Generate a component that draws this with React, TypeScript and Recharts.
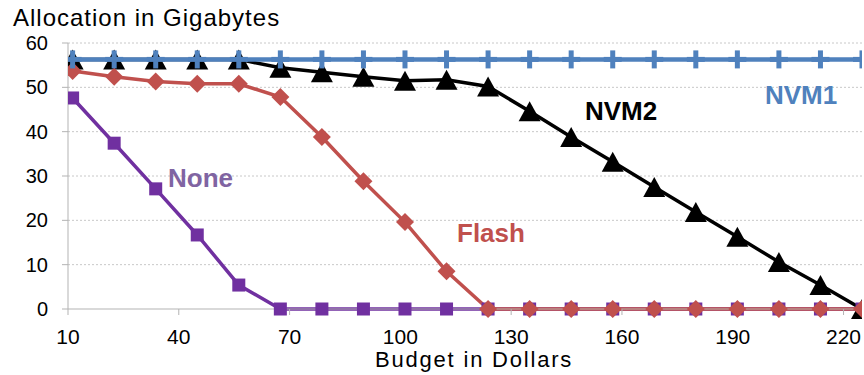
import React from 'react';
import { LineChart, Line, XAxis, YAxis, CartesianGrid } from 'recharts';

const FONT = '"Liberation Sans", Arial, sans-serif';

// budget steps (dollars) shared by every series
const budget = [
  11.25, 22.5, 33.75, 45, 56.25, 67.5, 78.75, 90, 101.25, 112.5,
  123.75, 135, 146.25, 157.5, 168.75, 180, 191.25, 202.5, 213.75, 225,
];

// allocation in GB for each memory configuration
const noneGb = [47.6, 37.4, 27.1, 16.7, 5.4, 0, 0, 0, 0, 0, 0, 0, 0, 0, 0, 0, 0, 0, 0, 0];
const flashGb = [53.7, 52.4, 51.3, 50.8, 50.8, 47.8, 38.8, 28.8, 19.6, 8.5, 0, 0, 0, 0, 0, 0, 0, 0, 0, 0];
const nvm2Gb = [
  56.3, 56.3, 56.3, 56.3, 56.3, 54.4, 53.4, 52.4, 51.5, 51.7,
  50.2, 44.6, 38.8, 33.2, 27.5, 21.9, 16.3, 10.6, 5.4, 0,
];
const nvm1Gb = [
  56.3, 56.3, 56.3, 56.3, 56.3, 56.3, 56.3, 56.3, 56.3, 56.3,
  56.3, 56.3, 56.3, 56.3, 56.3, 56.3, 56.3, 56.3, 56.3, 56.3,
];

const xTicks = [10, 40, 70, 100, 130, 160, 190, 220];
const yTicks = [0, 10, 20, 30, 40, 50, 60];

const COLORS = {
  none: '#7030a0',
  noneLabel: '#8064a2',
  flash: '#c0504d',
  nvm2: '#000000',
  nvm1: '#4f81bd',
};

const data = budget.map((b, i) => ({
  budget: b,
  none: noneGb[i],
  flash: flashGb[i],
  nvm2: nvm2Gb[i],
  nvm1: nvm1Gb[i],
}));

const SquareDot = (props: any) => {
  const { cx, cy, index } = props;
  return <rect key={`sq-${index}`} x={cx - 6.5} y={cy - 6.5} width={13} height={13} fill={COLORS.none} />;
};

const DiamondDot = (props: any) => {
  const { cx, cy, index } = props;
  const r = 9;
  return (
    <polygon
      key={`dm-${index}`}
      points={`${cx},${cy - r} ${cx + r},${cy} ${cx},${cy + r} ${cx - r},${cy}`}
      fill={COLORS.flash}
    />
  );
};

const TriangleDot = (props: any) => {
  const { cx, cy, index } = props;
  return (
    <polygon
      key={`tr-${index}`}
      points={`${cx},${cy - 10} ${cx + 11},${cy + 10} ${cx - 11},${cy + 10}`}
      fill={COLORS.nvm2}
    />
  );
};

const PlusDot = (props: any) => {
  const { cx, cy, index } = props;
  return (
    <g key={`pl-${index}`}>
      <rect x={cx - 2.5} y={cy - 9} width={5} height={18} fill={COLORS.nvm1} />
      <rect x={cx - 9} y={cy - 2.5} width={18} height={5} fill={COLORS.nvm1} />
    </g>
  );
};

const axisStroke = '#b3b3b3';
const xTickStyle = { fontSize: 21, fill: '#000', fontFamily: FONT };
const yTickStyle = { fontSize: 20, fill: '#000', fontFamily: FONT };
const seriesLabel = { fontSize: 26, fontWeight: 700, fontFamily: FONT };

export default function App() {
  return (
    <div style={{ position: 'absolute', left: 0, top: 0, width: 864, height: 375, background: '#fff' }}>
      <LineChart
        width={864}
        height={375}
        data={data}
        margin={{ top: 43, right: 2, bottom: 0, left: 0 }}
      >
        <CartesianGrid
          vertical={false}
          stroke="#c8c8c8"
          strokeDasharray="2 2"
          horizontalValues={[10, 20, 30, 40, 50, 60]}
        />
        <XAxis
          dataKey="budget"
          type="number"
          domain={[10, 225]}
          ticks={xTicks}
          height={66}
          tick={xTickStyle}
          tickSize={6}
          tickMargin={14}
          stroke={axisStroke}
          tickLine={{ stroke: axisStroke }}
          allowDataOverflow
        />
        <YAxis
          type="number"
          domain={[0, 60]}
          ticks={yTicks}
          width={68}
          tick={yTickStyle}
          tickSize={6}
          tickMargin={14}
          stroke={axisStroke}
          tickLine={{ stroke: axisStroke }}
        />
        <Line
          dataKey="none"
          stroke={COLORS.none}
          strokeWidth={3.5}
          dot={SquareDot}
          activeDot={false}
          isAnimationActive={false}
        />
        <Line
          dataKey="nvm2"
          stroke={COLORS.nvm2}
          strokeWidth={3.5}
          dot={TriangleDot}
          activeDot={false}
          isAnimationActive={false}
        />
        <Line
          dataKey="flash"
          stroke={COLORS.flash}
          strokeWidth={3.5}
          dot={DiamondDot}
          activeDot={false}
          isAnimationActive={false}
        />
        <Line
          dataKey="nvm1"
          stroke={COLORS.nvm1}
          strokeWidth={4.5}
          dot={PlusDot}
          activeDot={false}
          isAnimationActive={false}
        />
      </LineChart>
      <svg
        width={864}
        height={375}
        style={{ position: 'absolute', left: 0, top: 0, pointerEvents: 'none' }}
      >
        <text x={13} y={26} fontSize={24} letterSpacing={1} fontFamily={FONT} fill="#000">
          Allocation in Gigabytes
        </text>
        <text x={375} y={367} fontSize={22} letterSpacing={1.8} fontFamily={FONT} fill="#000">
          Budget in Dollars
        </text>
        <text x={168} y={187} {...seriesLabel} fill={COLORS.noneLabel}>None</text>
        <text x={457} y={242} {...seriesLabel} fill={COLORS.flash}>Flash</text>
        <text x={585} y={120} {...seriesLabel} fill={COLORS.nvm2}>NVM2</text>
        <text x={765} y={104} {...seriesLabel} fill={COLORS.nvm1}>NVM1</text>
      </svg>
    </div>
  );
}
